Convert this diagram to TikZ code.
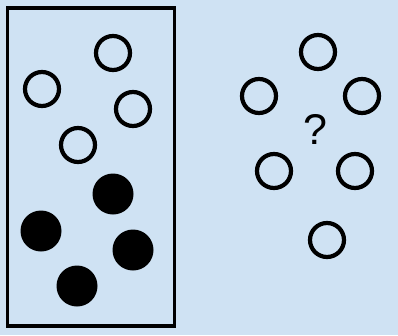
\documentclass[tikz,border=0pt]{standalone}
\usepackage{fontspec}
\setmainfont{Liberation Sans}
\definecolor{bgblue}{RGB}{207,226,243}
\begin{document}
\begin{tikzpicture}[x=1pt,y=-1pt,
  open/.style={circle,draw=black,line width=4.2pt,minimum size=34pt,inner sep=0pt},
  full/.style={circle,fill=black,minimum size=41pt,inner sep=0pt},
  box/.style={draw=black,line width=3.8pt}]
\fill[bgblue] (0,0) rectangle (398,335);
\useasboundingbox (0,0) rectangle (398,335);
\node[box,minimum width=167pt,minimum height=318pt,inner sep=0pt] (frame) at (91,167) {};
\node[open] (o1) at (113,53) {};
\node[open] (o2) at (42,89) {};
\node[open] (o3) at (133,109) {};
\node[open] (o4) at (78,145) {};
\node[full] (f1) at (113,194) {};
\node[full] (f2) at (41,231) {};
\node[full] (f3) at (133,250) {};
\node[full] (f4) at (77,286) {};
\node[open] (r1) at (318,52) {};
\node[open] (r2) at (259,96) {};
\node[open] (r3) at (362,96) {};
\node[open] (r4) at (274,171) {};
\node[open] (r5) at (355,171) {};
\node[open] (r6) at (327,240) {};
\node[font=\fontsize{43}{43}\selectfont,inner sep=0pt] (q) at (315,129) {?};
\end{tikzpicture}
\end{document}
